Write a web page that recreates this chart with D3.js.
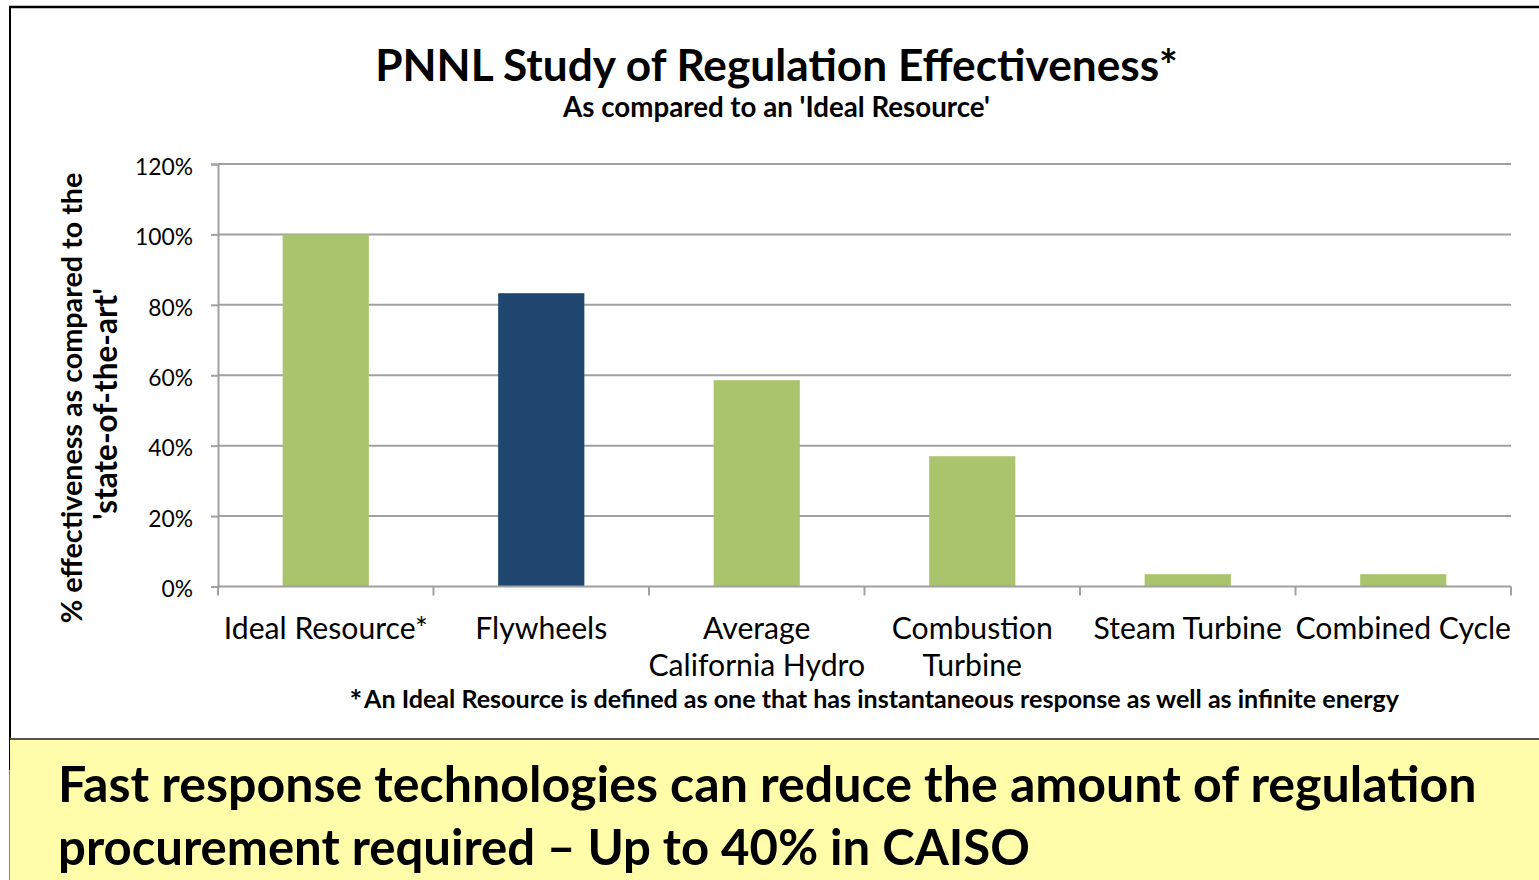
<!DOCTYPE html>
<html><head><meta charset="utf-8">
<script src="https://cdn.jsdelivr.net/npm/d3@7"></script>
<style>html,body{margin:0;padding:0;background:#fff;overflow:hidden}</style>
</head><body>
<svg id="c" width="1539" height="880"></svg>
<script>
const categories = [["Ideal Resource*"],["Flywheels"],["Average","California Hydro"],["Combustion","Turbine"],["Steam Turbine"],["Combined Cycle"]];
const values = [1.00, 0.833, 0.586, 0.37, 0.035, 0.035];
const barColors = ["#A9C46C","#1F4770","#A9C46C","#A9C46C","#A9C46C","#A9C46C"];
const yTicks = [0, 0.2, 0.4, 0.6, 0.8, 1.0, 1.2];
const titleText = "PNNL Study of Regulation Effectiveness*";
const subtitleText = "As compared to an 'Ideal Resource'";
const yLabelLines = ["% effectiveness as compared to the", "'state-of-the-art'"];
const footnoteText = "An Ideal Resource is defined as one that has instantaneous response as well as infinite energy";
const calloutLines = ["Fast response technologies can reduce the amount of regulation", "procurement required \u2013 Up to 40% in CAISO"];

const FONT = "Lato, 'Open Sans', sans-serif";
const svg = d3.select("#c");
svg.append("rect").attr("width",1539).attr("height",880).attr("fill","#fff");

function fit(sel, target){
  const fs = parseFloat(sel.attr("font-size"));
  const w = sel.node().getComputedTextLength();
  sel.attr("font-size", fs*target/w);
}

// frame
svg.append("line").attr("x1",9).attr("x2",1539).attr("y1",7).attr("y2",7).attr("stroke","#000").attr("stroke-width",2.5);
svg.append("line").attr("x1",10).attr("x2",10).attr("y1",6).attr("y2",770).attr("stroke","#000").attr("stroke-width",2);
svg.append("line").attr("x1",9.5).attr("x2",9.5).attr("y1",770).attr("y2",880).attr("stroke","#888").attr("stroke-width",1);

const x = d3.scaleBand().domain(d3.range(categories.length)).range([218,1511]).paddingInner(0).paddingOuter(0);
const y = d3.scaleLinear().domain([0,1.2]).range([586.5,164]);
const barW = x.bandwidth()*0.4;

// gridlines
svg.append("g").selectAll("line").data(yTicks.filter(d=>d>0)).join("line")
  .attr("x1",218).attr("x2",1511).attr("y1",d=>y(d)).attr("y2",d=>y(d))
  .attr("stroke","#A0A0A0").attr("stroke-width",2);

// bars
svg.append("g").selectAll("rect").data(values).join("rect")
  .attr("x",(d,i)=>x(i)+x.bandwidth()/2-barW/2).attr("width",barW)
  .attr("y",d=>y(d)).attr("height",d=>y(0)-y(d)).attr("fill",(d,i)=>barColors[i]);

// y axis
const yAxis = d3.axisLeft(y).tickValues(yTicks).tickFormat(d3.format(".0%")).tickSize(7).tickPadding(18);
const ya = svg.append("g").attr("transform","translate(218,0)").call(yAxis);
ya.select(".domain").attr("stroke","#A0A0A0").attr("stroke-width",2);
ya.selectAll(".tick line").attr("stroke","#A0A0A0").attr("stroke-width",2);
ya.selectAll(".tick text").attr("font-family",FONT).attr("font-size",22).attr("fill","#000").attr("dy","0.45em");
{ const t = ya.selectAll(".tick text").filter(d=>d===1.0); const fs=22; const w=t.node().getComputedTextLength(); ya.selectAll(".tick text").attr("font-size",fs*58/w); }

// x axis
const xa = svg.append("g");
xa.append("line").attr("x1",218).attr("x2",1511).attr("y1",y(0)).attr("y2",y(0)).attr("stroke","#A0A0A0").attr("stroke-width",2);
xa.selectAll("line.tk").data(d3.range(categories.length+1)).join("line").attr("class","tk")
  .attr("x1",d=>218+d*x.bandwidth()).attr("x2",d=>218+d*x.bandwidth())
  .attr("y1",y(0)).attr("y2",y(0)+9).attr("stroke","#A0A0A0").attr("stroke-width",2);
const cl = xa.selectAll("text").data(categories).join("text")
  .attr("x",(d,i)=>x(i)+x.bandwidth()/2).attr("y",639)
  .attr("text-anchor","middle").attr("font-family",FONT).attr("font-size",27).attr("fill","#000");
cl.selectAll("tspan").data(d=>d).join("tspan")
  .attr("x",function(){return this.parentNode.getAttribute("x");})
  .attr("dy",(d,i)=>i===0?0:36.5).text(d=>d);
{ const w = cl.filter((d,i)=>i===0).node().getComputedTextLength(); cl.attr("font-size",27*204/w); }

// title
const tt = svg.append("text").attr("x",776.5).attr("y",81).attr("text-anchor","middle")
  .attr("font-family",FONT).attr("font-weight","bold").attr("font-size",40).text(titleText);
fit(tt,803);
const st = svg.append("text").attr("x",776.5).attr("y",117).attr("text-anchor","middle")
  .attr("font-family",FONT).attr("font-weight","bold").attr("font-size",24).text(subtitleText);
fit(st,427);

// y label
const yl1 = svg.append("text").attr("transform","translate(82,398) rotate(-90)").attr("text-anchor","middle")
  .attr("font-family",FONT).attr("font-weight","bold").attr("font-size",27).text(yLabelLines[0]);
fit(yl1,451);
const yl2 = svg.append("text").attr("transform","translate(117,404) rotate(-90)").attr("text-anchor","middle")
  .attr("font-family",FONT).attr("font-weight","bold").attr("font-size",27).text(yLabelLines[1]);
fit(yl2,232);

// footnote
const fn = svg.append("text").attr("x",881.5).attr("y",708).attr("text-anchor","middle")
  .attr("font-family",FONT).attr("font-weight","bold").attr("font-size",22).text(footnoteText);
fit(fn,1035);
svg.append("text").attr("x",356).attr("y",712).attr("text-anchor","middle")
  .attr("font-family",FONT).attr("font-weight","bold").attr("font-size",30).text("*");

// callout box
svg.append("rect").attr("x",10).attr("y",739).attr("width",1529).attr("height",141).attr("fill","#FFFDA9");
svg.append("line").attr("x1",10).attr("x2",1539).attr("y1",739).attr("y2",739).attr("stroke","#555").attr("stroke-width",2);
const c1 = svg.append("text").attr("x",58).attr("y",802).attr("font-family",FONT).attr("font-weight","bold").attr("font-size",46).text(calloutLines[0]);
fit(c1,1419);
const c2 = svg.append("text").attr("x",58).attr("y",865).attr("font-family",FONT).attr("font-weight","bold").attr("font-size",46).text(calloutLines[1]);
fit(c2,972);
</script>
</body></html>
